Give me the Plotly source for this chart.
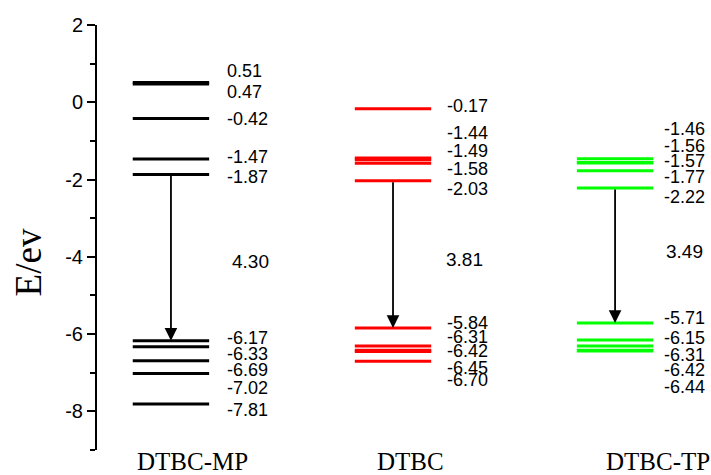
import plotly.graph_objects as go

# ---- data ----
categories = ["DTBC-MP", "DTBC", "DTBC-TP"]
mp_levels = [0.51, 0.47, -0.42, -1.47, -1.87, -6.17, -6.33, -6.69, -7.02, -7.81]
dtbc_levels = [-0.17, -1.44, -1.49, -1.58, -2.03, -5.84, -6.31, -6.42, -6.45, -6.70]
tp_levels = [-1.46, -1.56, -1.57, -1.77, -2.22, -5.71, -6.15, -6.31, -6.42, -6.44]
lumo = [-1.87, -2.03, -2.22]
homo = [-6.17, -5.84, -5.71]
gap_labels = ["4.30", "3.81", "3.49"]
y_tick_vals = [2, 0, -2, -4, -6, -8]
y_tick_text = ["2", "0", "-2", "-4", "-6", "-8"]

# ---- layout helpers (label placement, not data) ----
mp_label_y = [0.81, 0.27, -0.43, -1.42, -1.93, -6.10, -6.51, -6.93, -7.39, -7.96]
dtbc_label_y = [-0.10, -0.80, -1.26, -1.73, -2.24, -5.71, -6.07, -6.44, -6.88, -7.19]
tp_label_y = [-0.69, -1.13, -1.52, -1.93, -2.45, -5.58, -6.10, -6.54, -6.93, -7.37]
label_dx = [0.245, 0.232, 0.210]
gap_label_y = [-4.13, -4.06, -3.85]
gap_label_dx = [0.356, 0.324, 0.311]
cat_label_dx = [0.099, 0.081, 0.192]
colors = ["#000000", "#ff0000", "#00ff00"]
half_w = 0.172

all_levels = [mp_levels, dtbc_levels, tp_levels]
all_label_y = [mp_label_y, dtbc_label_y, tp_label_y]

fig = go.Figure()
annotations = []
for i, (levels, col) in enumerate(zip(all_levels, colors)):
    xs, ys = [], []
    for v in levels:
        xs += [i - half_w, i + half_w, None]
        ys += [v, v, None]
    fig.add_trace(go.Scatter(x=xs, y=ys, mode="lines",
                             line=dict(color=col, width=3),
                             hoverinfo="skip", showlegend=False))
    for v, ly in zip(levels, all_label_y[i]):
        annotations.append(dict(x=i + label_dx[i], y=ly, xref="x", yref="y",
                                text=f"{v:.2f}", showarrow=False,
                                xanchor="left", yanchor="middle",
                                font=dict(family="Liberation Sans, Arial", size=18, color="black")))
    # transition arrow
    annotations.append(dict(x=i, y=homo[i], ax=i, ay=lumo[i], xref="x", yref="y",
                            axref="x", ayref="y", text="", showarrow=True,
                            arrowhead=2, arrowsize=1.4, arrowwidth=1.8,
                            arrowcolor="black", standoff=0, startstandoff=0))
    annotations.append(dict(x=i + gap_label_dx[i], y=gap_label_y[i], xref="x", yref="y",
                            text=gap_labels[i], showarrow=False,
                            xanchor="center", yanchor="middle",
                            font=dict(family="Liberation Sans, Arial", size=19, color="black")))
    # category label below the levels
    annotations.append(dict(x=i + cat_label_dx[i], y=-0.028, xref="x", yref="paper",
                            text=categories[i], showarrow=False,
                            xanchor="center", yanchor="middle",
                            font=dict(family="Liberation Serif, Times New Roman", size=25, color="black")))

annotations.append(dict(x=-0.112, y=0.442, xref="paper", yref="paper",
                        text="E/ev", textangle=-90, showarrow=False,
                        xanchor="center", yanchor="middle",
                        font=dict(family="Liberation Serif, Times New Roman", size=37, color="black")))

fig.update_layout(
    width=711, height=475,
    margin=dict(l=97, r=0, t=25, b=25),
    paper_bgcolor="white", plot_bgcolor="white",
    annotations=annotations,
    xaxis=dict(range=[-0.333, 2.432], showticklabels=False,
               showgrid=False, zeroline=False, showline=False, ticks="",
               automargin=False),
    yaxis=dict(range=[-9, 2], tickvals=y_tick_vals, ticktext=y_tick_text,
               showgrid=False, zeroline=False, showline=True, linecolor="black", linewidth=2,
               ticks="outside", ticklen=8, tickwidth=2, tickcolor="black",
               minor=dict(tickvals=[1, -1, -3, -5, -7, -9], ticks="outside", ticklen=5,
                          tickwidth=2, tickcolor="black"),
               tickfont=dict(family="Liberation Sans, Arial", size=20, color="black"),
               automargin=False),
)

fig.write_html("out.html", config={"displayModeBar": False},
               post_script="document.body.style.margin='0px';document.body.style.overflow='hidden';")
